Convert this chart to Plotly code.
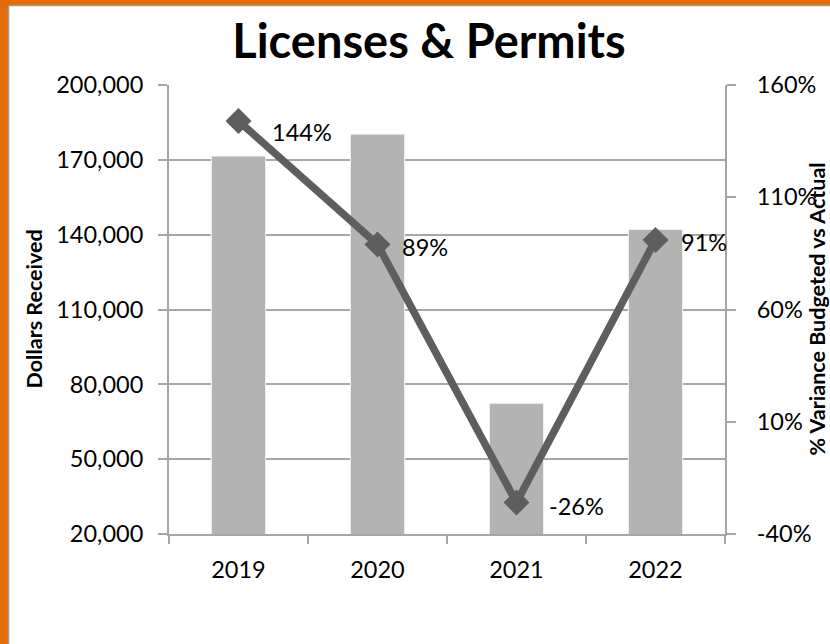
import plotly.graph_objects as go

# Licenses & Permits: dollars received per year and % variance budgeted vs actual
years = ["2019", "2020", "2021", "2022"]
dollars_received = [171500, 180300, 72400, 142100]
variance_pct = [144, 89, -26, 91]
label_shift_x = [31, 22, 30, 23]
label_shift_y = [-11, -3, -3, -2]
pct_ticks = [-40, 10, 60, 110, 160]

xpos = list(range(len(years)))
boundaries = [i - 0.5 for i in range(len(years) + 1)]

FONT = "Lato"
ORANGE = "#E36C0A"
BAR = "#B3B3B3"
LINE = "#5E5E5E"
GRID = "#A6A6A6"
TICK_SIZE = 23.5

fig = go.Figure()

fig.add_trace(go.Bar(
    x=xpos, y=dollars_received, width=0.39,
    marker=dict(color=BAR, line=dict(color="#F2F2F2", width=1)),
    yaxis="y", hoverinfo="skip",
))

fig.add_trace(go.Scatter(
    x=xpos, y=variance_pct, yaxis="y2",
    mode="lines+markers",
    line=dict(color=LINE, width=7.5),
    marker=dict(symbol="diamond", size=20, color=LINE),
    hoverinfo="skip",
))

# data labels placed to the right of each point
for xp, v, dx, dy in zip(xpos, variance_pct, label_shift_x, label_shift_y):
    fig.add_annotation(
        x=xp, y=v, xref="x", yref="y2", text=f"{v}%",
        showarrow=False, xanchor="left", yanchor="middle",
        xshift=dx, yshift=dy, font=dict(family=FONT, size=TICK_SIZE, color="#000"),
    )

# plot-area geometry in pixels
L, R, T, B = 169, 105, 85, 110
W, H = 830, 644
pw, ph = W - L - R, H - T - B

def px_x(px):
    return (px - L) / pw

def px_y(py):
    return (H - B - py) / ph

# axis titles, rotated and centred on the plot area
fig.add_annotation(text="<b>Dollars Received</b>", textangle=-90,
                   xref="paper", yref="paper", x=px_x(33), y=0.5,
                   xanchor="center", yanchor="middle", showarrow=False,
                   font=dict(family=FONT, size=21.5, color="#000"))
fig.add_annotation(text="<b>% Variance Budgeted vs Actual</b>", textangle=-90,
                   xref="paper", yref="paper", x=px_x(816), y=0.5,
                   xanchor="center", yanchor="middle", showarrow=False,
                   font=dict(family=FONT, size=21.5, color="#000"))

# orange frame on the left and top edges, with a thin grey inner line
fig.add_shape(type="rect", xref="paper", yref="paper",
              x0=px_x(-2), x1=px_x(8), y0=px_y(H + 2), y1=px_y(-2),
              fillcolor=ORANGE, line=dict(width=0), layer="below")
fig.add_shape(type="rect", xref="paper", yref="paper",
              x0=px_x(-2), x1=px_x(W + 2), y0=px_y(5), y1=px_y(-2),
              fillcolor=ORANGE, line=dict(width=0), layer="below")
fig.add_shape(type="line", xref="paper", yref="paper",
              x0=px_x(8.5), x1=px_x(8.5), y0=px_y(5), y1=px_y(H + 2),
              line=dict(color="#9A9A9A", width=1.5), layer="below")
fig.add_shape(type="line", xref="paper", yref="paper",
              x0=px_x(8), x1=px_x(W + 2), y0=px_y(5.5), y1=px_y(5.5),
              line=dict(color="#9A9A9A", width=1.5), layer="below")

fig.update_layout(
    width=W, height=H,
    margin=dict(l=L, r=R, t=T, b=B, pad=0, autoexpand=False),
    paper_bgcolor="white", plot_bgcolor="white",
    showlegend=False,
    font=dict(family=FONT, size=TICK_SIZE, color="#000"),
    title=dict(
        text="<b>Licenses & Permits</b>",
        x=px_x(429), xref="paper", xanchor="center",
        y=1 - 42 / H, yref="container", yanchor="middle",
        font=dict(family=FONT, size=47, color="#000"),
    ),
    xaxis=dict(
        range=[-0.5, len(years) - 0.5], automargin=False,
        tickmode="array", tickvals=xpos, ticktext=years,
        showgrid=False, zeroline=False,
        showline=True, linecolor=GRID, linewidth=2,
        ticks="", tickangle=0,
        tickfont=dict(family=FONT, size=TICK_SIZE),
        ticklabelstandoff=14,
        minor=dict(tickmode="array", tickvals=boundaries, ticks="outside",
                   ticklen=8, tickcolor=GRID, tickwidth=2, showgrid=False),
    ),
    yaxis=dict(
        range=[20000, 200000], dtick=30000, tick0=20000, automargin=False,
        tickformat=",", showgrid=True, gridcolor=GRID, gridwidth=2,
        showline=True, linecolor=GRID, linewidth=2,
        ticks="outside", ticklen=9, tickcolor=GRID, tickwidth=2,
        zeroline=False,
        tickfont=dict(family=FONT, size=TICK_SIZE),
        ticklabelstandoff=10,
    ),
    yaxis2=dict(
        range=[-40, 160], tickmode="array", tickvals=pct_ticks,
        ticktext=[f"{t}%" for t in pct_ticks], automargin=False,
        overlaying="y", side="right", showgrid=False,
        showline=True, linecolor=GRID, linewidth=2,
        ticks="outside", ticklen=9, tickcolor=GRID, tickwidth=2,
        zeroline=False,
        tickfont=dict(family=FONT, size=TICK_SIZE),
        ticklabelstandoff=16,
    ),
)

fig.write_html("out.html")
